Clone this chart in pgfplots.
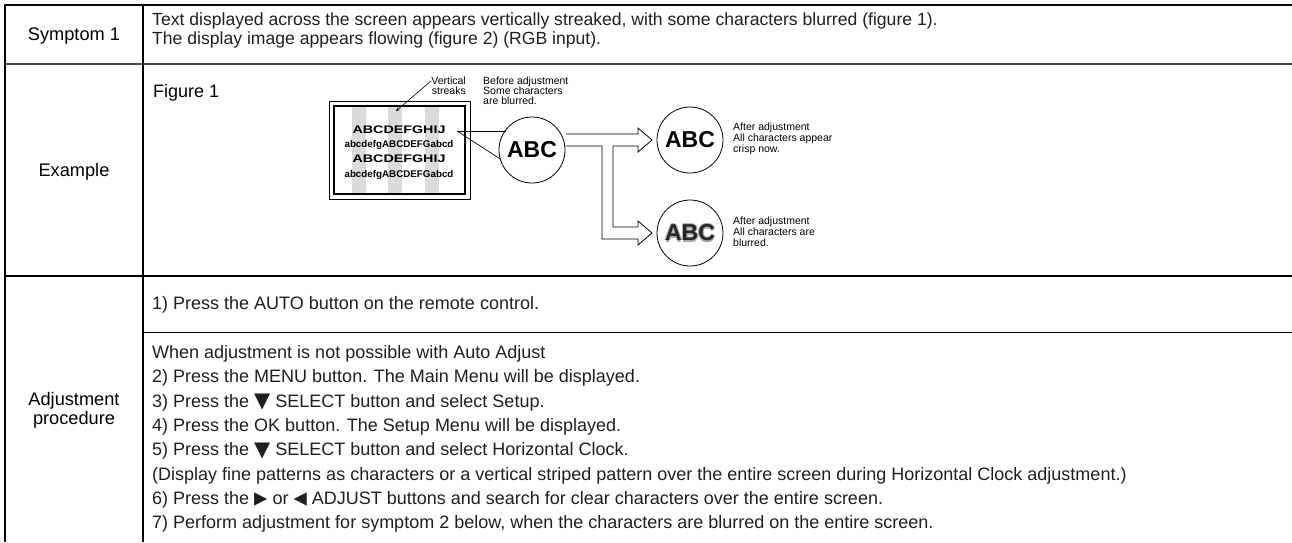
\documentclass[border=0pt]{standalone}
\usepackage{pgfplots}
\pgfplotsset{compat=1.18}
\usepackage{fontspec}
\setmainfont{Liberation Sans}
\newfontfamily\sym{DejaVu Sans}
\newcommand{\tri}[1]{{\sym\fontsize{21}{21}\selectfont\raisebox{-0.5pt}{#1}}}
\newcommand{\htri}[1]{{\sym\fontsize{24}{24}\selectfont\raisebox{-2pt}{\scalebox{0.72}[1.12]{#1}}}}
\begin{document}
\begin{tikzpicture}[
  txt/.style={anchor=base west, inner sep=0pt, text=black!88, font=\fontsize{18}{22}\selectfont},
  txtb/.style={anchor=base west, inner sep=0pt, text=black!88, font=\fontsize{17.6}{22}\selectfont},
  lab/.style={anchor=base, inner sep=0pt, text=black, font=\fontsize{18.2}{22}\selectfont},
  small/.style={anchor=base west, inner sep=0pt, text=black, font=\fontsize{10.5}{11}\selectfont},
  ring/.style={circle, draw=black, line width=0.8pt, minimum size=66pt, inner sep=0pt},
]
\begin{axis}[
  scale only axis, width=1292pt, height=542pt,
  xmin=0, xmax=1292, ymin=0, ymax=542, y dir=reverse,
  hide axis, clip=false,
]
% ---- table rules ----
\addplot[black, line width=2.3pt] coordinates {(1292,5) (5,5) (5,542)};
\addplot[black!70, line width=2pt] coordinates {(5,63.5) (1292,63.5)};
\addplot[black, line width=1.3pt] coordinates {(143,5) (143,542)};
\addplot[black, line width=1.5pt] coordinates {(5,276) (1292,276)};
\addplot[black, line width=1pt] coordinates {(143,332) (1292,332)};

% ---- column 1 ----
\node[lab] at (axis cs:74,40) {Symptom 1};
\node[lab] at (axis cs:74,176) {Example};
\node[lab] at (axis cs:74,405) {Adjustment};
\node[lab] at (axis cs:74,424) {procedure};

% ---- row 1 ----
\node[txtb] at (axis cs:152,25) {Text displayed across the screen appears vertically streaked, with some characters blurred (figure 1).};
\node[txtb] at (axis cs:152,44) {The display image appears flowing (figure 2) (RGB input).};

% ---- row 2: figure ----
\node[txt, text=black] at (axis cs:153,97) {Figure 1};
% screen stripes
\fill[gray!28] (axis cs:352,106) rectangle (axis cs:366,194);
\fill[gray!28] (axis cs:388,106) rectangle (axis cs:402,194);
\fill[gray!28] (axis cs:425,106) rectangle (axis cs:439,194);
\draw[line width=0.7pt] (axis cs:329,101) rectangle (axis cs:470,199);
\draw[line width=2.2pt] (axis cs:334,106) rectangle (axis cs:465,194);
\node[anchor=base, inner sep=0pt, font=\bfseries\fontsize{11}{11}\selectfont, xscale=1.3] at (axis cs:399,133) {ABCDEFGHIJ};
\node[anchor=base, inner sep=0pt, font=\bfseries\fontsize{9.8}{10}\selectfont] at (axis cs:399,147.5) {abcdefgABCDEFGabcd};
\node[anchor=base, inner sep=0pt, font=\bfseries\fontsize{11}{11}\selectfont, xscale=1.3] at (axis cs:399,162) {ABCDEFGHIJ};
\node[anchor=base, inner sep=0pt, font=\bfseries\fontsize{9.8}{10}\selectfont] at (axis cs:399,177) {abcdefgABCDEFGabcd};
% vertical streaks label
\node[anchor=base east, inner sep=0pt, font=\fontsize{10.5}{11}\selectfont] at (axis cs:466,84) {Vertical};
\node[anchor=base east, inner sep=0pt, font=\fontsize{10.5}{11}\selectfont] at (axis cs:466,94) {streaks};
\draw[line width=0.6pt, -stealth] (axis cs:431,81) -- (axis cs:396,111);
% before adjustment
\node[small] at (axis cs:483,84) {Before adjustment};
\node[small] at (axis cs:483,94) {Some characters};
\node[small] at (axis cs:483,104) {are blurred.};
% circles
\node[ring] (c1) at (axis cs:532,150) {};
\node[ring] (c2) at (axis cs:690,140) {};
\node[ring] (c3) at (axis cs:690,233) {};
\node[inner sep=0pt, font=\bfseries\fontsize{23}{22}\selectfont] at (axis cs:532,150) {ABC};
\node[inner sep=0pt, font=\bfseries\fontsize{23}{22}\selectfont] at (axis cs:690,140) {ABC};
% blurred ABC
\node[inner sep=0pt, text=black!35, font=\bfseries\fontsize{23}{22}\selectfont] at (axis cs:688.8,233) {ABC};
\node[inner sep=0pt, text=black!35, font=\bfseries\fontsize{23}{22}\selectfont] at (axis cs:691.2,233) {ABC};
\node[inner sep=0pt, text=black!35, font=\bfseries\fontsize{23}{22}\selectfont] at (axis cs:690,231.8) {ABC};
\node[inner sep=0pt, text=black!35, font=\bfseries\fontsize{23}{22}\selectfont] at (axis cs:690,234.2) {ABC};
\node[inner sep=0pt, text=black!85, font=\bfseries\fontsize{23}{22}\selectfont] at (axis cs:690,233) {ABC};
% pointer lines
\draw[line width=0.7pt] (axis cs:457,131) -- (axis cs:506,131);
\draw[line width=0.7pt] (axis cs:457,131) -- (c1.195);
% double-line T arrow
\addplot[black, line width=0.8pt] coordinates {
 (566,146) (602,146) (602,239) (638,239) (638,245) (652,233) (638,221) (638,227)
 (613,227) (613,146) (638,146) (638,152) (652,140) (638,128) (638,134) (566,134)};
% after adjustment labels
\node[small] at (axis cs:733,130) {After adjustment};
\node[small] at (axis cs:733,141) {All characters appear};
\node[small] at (axis cs:733,152) {crisp now.};
\node[small] at (axis cs:733,224) {After adjustment};
\node[small] at (axis cs:733,235) {All characters are};
\node[small] at (axis cs:733,246) {blurred.};

% ---- row 3 ----
\node[txt] at (axis cs:152,309) {1) Press the AUTO button on the remote control.};
\node[txt] at (axis cs:152,358.5) {When adjustment is not possible with Auto Adjust};
\node[txt] at (axis cs:152,382.8) {2) Press the MENU button. The Main Menu will be displayed.};
\node[txt] at (axis cs:152,407.1) {3) Press the \tri{▼} SELECT button and select Setup.};
\node[txt] at (axis cs:152,431.4) {4) Press the OK button. The Setup Menu will be displayed.};
\node[txt] at (axis cs:152,455.7) {5) Press the \tri{▼} SELECT button and select Horizontal Clock.};
\node[txt] at (axis cs:152,480) {(Display fine patterns as characters or a vertical striped pattern over the entire screen during Horizontal Clock adjustment.)};
\node[txt] at (axis cs:152,504.3) {6) Press the \htri{►} or \htri{◄} ADJUST buttons and search for clear characters over the entire screen.};
\node[txt] at (axis cs:152,528.6) {7) Perform adjustment for symptom 2 below, when the characters are blurred on the entire screen.};
\end{axis}
\pgfresetboundingbox
\path (0,0) rectangle (1292pt,542pt);
\end{tikzpicture}
\end{document}
